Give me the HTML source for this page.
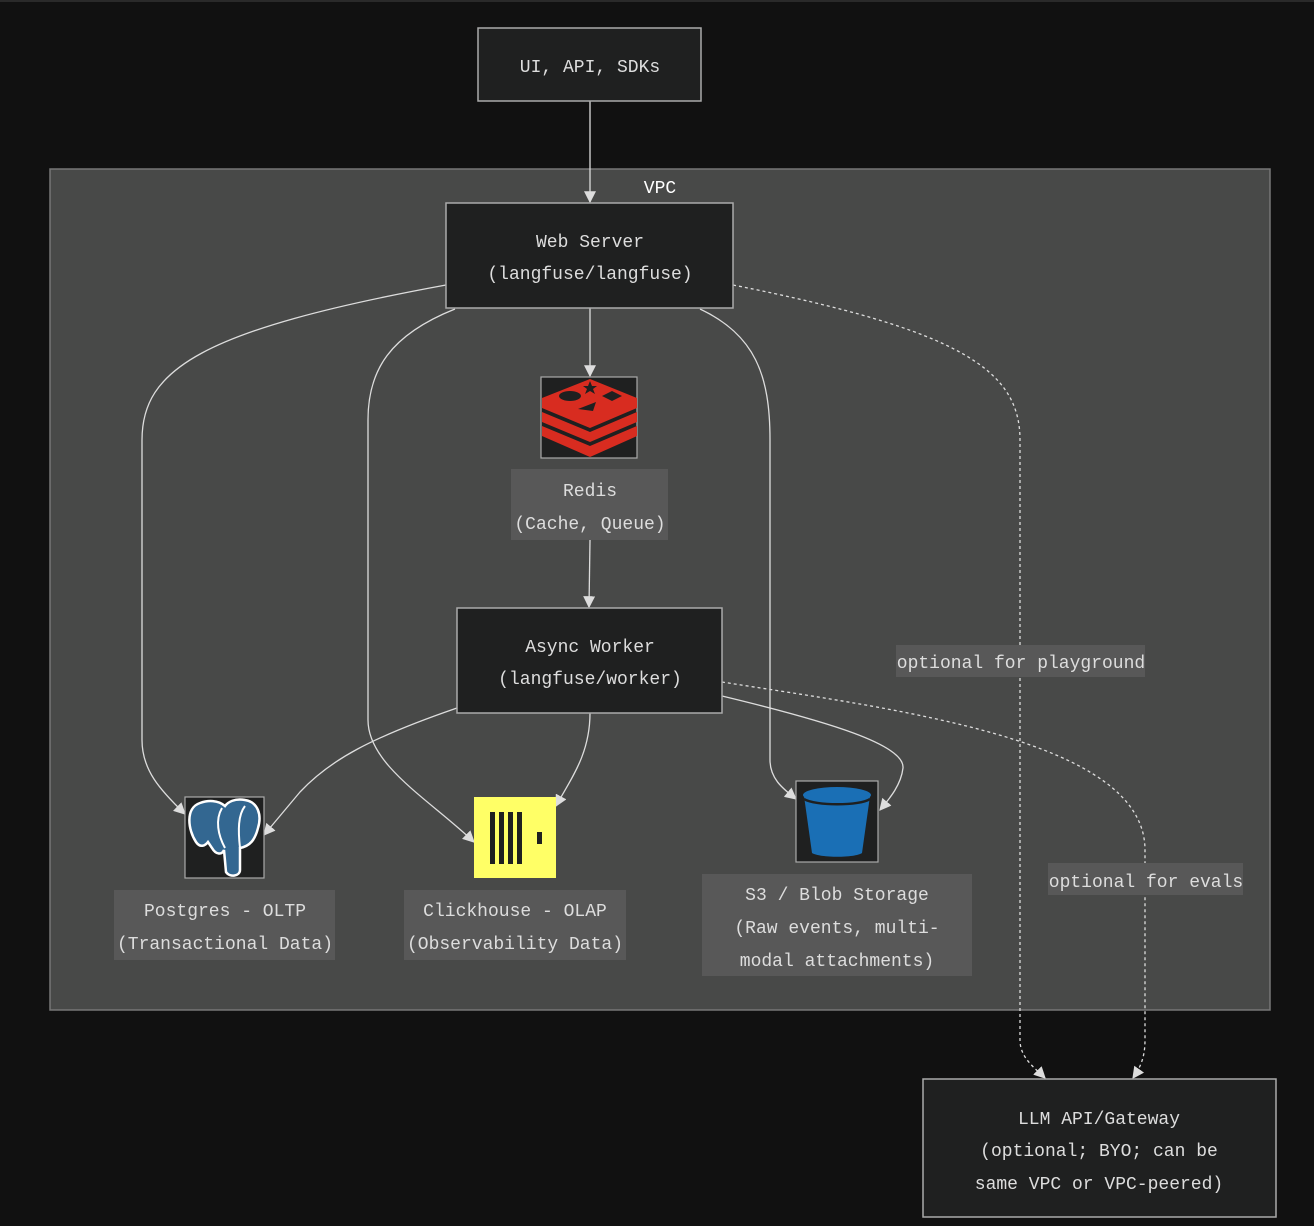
<!DOCTYPE html>
<html><head><meta charset="utf-8"><style>
html,body{margin:0;padding:0;background:#111;}
svg{display:block}
text{font-family:"Liberation Mono","Noto Sans CJK SC",monospace;font-size:18px;fill:#ddd;}
</style></head><body>
<svg width="1314" height="1226" viewBox="0 0 1314 1226" xmlns="http://www.w3.org/2000/svg">
<defs>
<marker id="a" viewBox="0 0 10 10" refX="9" refY="5" markerWidth="7" markerHeight="7" orient="auto-start-reverse" markerUnits="userSpaceOnUse" >
<path d="M0,0 L10,5 L0,10 z" fill="#ddd"/></marker>
<marker id="b" viewBox="0 0 10 10" refX="9" refY="5" markerWidth="12" markerHeight="12" orient="auto" markerUnits="userSpaceOnUse">
<path d="M0,0 L10,5 L0,10 z" fill="#ddd"/></marker>
</defs>
<rect x="0" y="0" width="1314" height="1226" fill="#111"/>
<rect x="0" y="0" width="1314" height="2" fill="#2a2a2a"/>
<rect x="50" y="169" width="1220" height="841" fill="#484948" stroke="#777" stroke-width="1.5"/>
<text x="660" y="193" text-anchor="middle" style="fill:#fff">VPC</text>

<g fill="none" stroke="#ddd" stroke-width="1.3">
<path d="M590,101 L590,202" marker-end="url(#b)"/>
<path d="M590,308 L590,376" marker-end="url(#b)"/>
<path d="M590,540 L589,607" marker-end="url(#b)"/>
<path d="M446,285 C200,330 142,370 142,440 L142,740 C142,770 160,790 185,814" marker-end="url(#b)"/>
<path d="M455,309 C390,335 368,370 368,420 L368,720 C368,765 430,800 474,842" marker-end="url(#b)"/>
<path d="M700,309 C755,335 770,375 770,440 L770,760 C770,780 785,790 796,799" marker-end="url(#b)"/>
<path d="M457,708 C370,738 330,760 300,792 L264,835" marker-end="url(#b)"/>
<path d="M590,713 C590,755 570,780 556,806" marker-end="url(#b)"/>
<path d="M722,696 C830,722 905,745 903,768 C901,785 890,798 880,810" marker-end="url(#b)"/>
<path d="M733,285 C960,330 1020,370 1020,440 L1020,1040 C1020,1058 1035,1068 1045,1078" stroke-dasharray="3,3" marker-end="url(#b)"/>
<path d="M722,682 C900,710 1145,740 1145,850 L1145,1040 C1145,1058 1140,1068 1133,1078" stroke-dasharray="3,3" marker-end="url(#b)"/>
</g>

<rect x="478" y="28" width="223" height="73" fill="#1f2020" stroke="#aaa" stroke-width="1.5"/>
<text x="590" y="72" text-anchor="middle">UI, API, SDKs</text>

<rect x="446" y="203" width="287" height="105" fill="#1f2020" stroke="#aaa" stroke-width="1.5"/>
<text x="590" y="247" text-anchor="middle">Web Server</text>
<text x="590" y="279" text-anchor="middle">(langfuse/langfuse)</text>

<rect x="541" y="377" width="96" height="81" fill="#1f2020" stroke="#aaa" stroke-width="1.2"/>
<g fill="#d82c20">
<path d="M542,426 L590,446 L637,426 L637,436 L590,457 L542,436 z"/>
<path d="M542,412 L590,432 L637,412 L637,422 L590,442 L542,422 z"/>
<path d="M542,398 L590,379 L637,398 L637,408 L590,428 L542,408 z"/>
</g>
<ellipse cx="570" cy="396" rx="11" ry="5" fill="#1f2020"/>
<path d="M602,396 L612,391 L622,396 L612,401 z" fill="#1f2020"/>
<path d="M578,409 L596,402 L593,411 z" fill="#1f2020"/>
<path d="M590,381 L592,386 L597,386 L593,389 L595,394 L590,391 L585,394 L587,389 L583,386 L588,386 z" fill="#1f2020"/>
<rect x="511" y="469" width="157" height="71" fill="#585858"/>
<text x="590" y="496" text-anchor="middle">Redis</text>
<text x="590" y="529" text-anchor="middle">(Cache, Queue)</text>

<rect x="457" y="608" width="265" height="105" fill="#1f2020" stroke="#aaa" stroke-width="1.5"/>
<text x="590" y="652" text-anchor="middle">Async Worker</text>
<text x="590" y="684" text-anchor="middle">(langfuse/worker)</text>

<rect x="185" y="797" width="79" height="81" fill="#1f2020" stroke="#aaa" stroke-width="1.2"/>
<path d="M200,803 C185,808 188,830 196,842 C200,848 205,846 208,842 L212,848 C216,855 222,855 224,850 L226,872 C230,878 240,876 240,870 L240,848 C250,846 255,840 258,828 C262,815 258,802 245,800 C235,798 228,802 225,806 C218,800 208,800 200,803 z" fill="#336791" stroke="#fff" stroke-width="2.5"/>
<path d="M222,808 C215,820 218,835 225,848 M245,806 C238,815 238,830 240,848" fill="none" stroke="#fff" stroke-width="2"/>
<rect x="114" y="890" width="221" height="70" fill="#585858"/>
<text x="225" y="916" text-anchor="middle">Postgres - OLTP</text>
<text x="225" y="949" text-anchor="middle">(Transactional Data)</text>

<rect x="474" y="797" width="82" height="81" fill="#ffff66"/>
<g fill="#1f2020">
<rect x="490" y="812" width="5" height="52"/><rect x="499" y="812" width="5" height="52"/>
<rect x="508" y="812" width="5" height="52"/><rect x="517" y="812" width="5" height="52"/>
<rect x="537" y="832" width="5" height="12"/></g>
<rect x="404" y="890" width="222" height="70" fill="#585858"/>
<text x="515" y="916" text-anchor="middle">Clickhouse - OLAP</text>
<text x="515" y="949" text-anchor="middle">(Observability Data)</text>

<rect x="796" y="781" width="82" height="81" fill="#1f2020" stroke="#aaa" stroke-width="1.2"/>
<path d="M804,796 L812,853 C820,858 855,858 862,853 L870,796 z" fill="#1a6fb5"/>
<ellipse cx="837" cy="795" rx="34" ry="8" fill="#1a6fb5"/>
<path d="M804,799 C815,806 860,806 870,799" fill="none" stroke="#1f2020" stroke-width="2.5"/>
<rect x="702" y="874" width="270" height="102" fill="#585858"/>
<text x="837" y="900" text-anchor="middle">S3 / Blob Storage</text>
<text x="837" y="933" text-anchor="middle">(Raw events, multi-</text>
<text x="837" y="966" text-anchor="middle">modal attachments)</text>

<rect x="896" y="645" width="249" height="32" fill="#585858"/>
<text x="1021" y="668" text-anchor="middle">optional for playground</text>
<rect x="1048" y="863" width="195" height="32" fill="#585858"/>
<text x="1146" y="887" text-anchor="middle">optional for evals</text>

<rect x="923" y="1079" width="353" height="138" fill="#1f2020" stroke="#aaa" stroke-width="1.5"/>
<text x="1099" y="1124" text-anchor="middle">LLM API/Gateway</text>
<text x="1099" y="1156" text-anchor="middle">(optional; BYO; can be</text>
<text x="1099" y="1189" text-anchor="middle">same VPC or VPC-peered)</text>
</svg>
</body></html>
